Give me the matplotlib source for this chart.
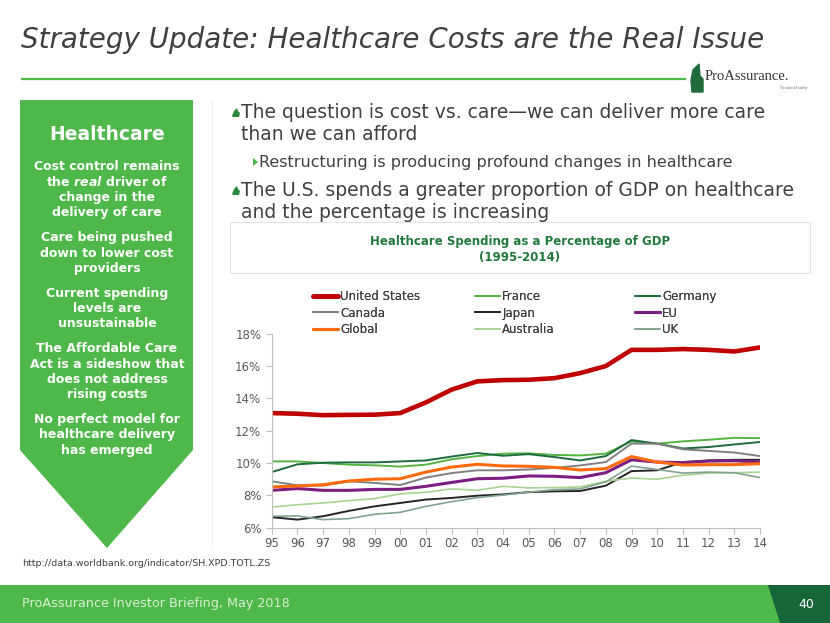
import matplotlib
matplotlib.use("Agg")
import matplotlib.pyplot as plt
from matplotlib.patches import Polygon, Rectangle

# values (percent of GDP)
years = ["95", "96", "97", "98", "99", "00", "01", "02", "03", "04",
         "05", "06", "07", "08", "09", "10", "11", "12", "13", "14"]
united_states = [13.09, 13.05, 12.96, 12.98, 12.99, 13.09, 13.75, 14.54, 15.05, 15.13,
                 15.15, 15.25, 15.56, 16.0, 17.0, 17.0, 17.05, 17.0, 16.9, 17.15]
france = [10.1, 10.1, 10.0, 9.9, 9.86, 9.78, 9.9, 10.23, 10.43, 10.58,
          10.6, 10.5, 10.47, 10.58, 11.34, 11.2, 11.34, 11.44, 11.56, 11.54]
germany = [9.44, 9.92, 10.02, 10.04, 10.04, 10.1, 10.16, 10.4, 10.62, 10.45,
           10.55, 10.37, 10.16, 10.43, 11.42, 11.2, 10.9, 10.99, 11.15, 11.3]
canada = [8.87, 8.62, 8.6, 8.87, 8.77, 8.64, 9.1, 9.38, 9.55, 9.55,
          9.6, 9.7, 9.85, 10.06, 11.2, 11.2, 10.85, 10.75, 10.65, 10.43]
japan = [6.65, 6.5, 6.71, 7.04, 7.32, 7.53, 7.74, 7.84, 7.98, 8.06,
         8.2, 8.25, 8.27, 8.6, 9.5, 9.55, 10.06, 10.16, 10.2, 10.2]
eu = [8.31, 8.42, 8.31, 8.31, 8.37, 8.37, 8.56, 8.8, 9.03, 9.06,
      9.2, 9.18, 9.1, 9.4, 10.2, 10.06, 10.02, 10.12, 10.14, 10.06]
global_avg = [8.52, 8.58, 8.66, 8.89, 9.0, 9.03, 9.44, 9.75, 9.92, 9.82,
              9.8, 9.73, 9.57, 9.65, 10.4, 10.06, 9.88, 9.9, 9.9, 9.96]
australia = [7.28, 7.42, 7.53, 7.67, 7.8, 8.09, 8.19, 8.4, 8.31, 8.56,
             8.46, 8.48, 8.52, 8.88, 9.07, 9.0, 9.24, 9.38, 9.4, 9.44]
uk = [6.71, 6.73, 6.5, 6.56, 6.83, 6.95, 7.32, 7.61, 7.86, 8.02,
      8.2, 8.35, 8.4, 8.83, 9.81, 9.6, 9.38, 9.44, 9.4, 9.1]
y_ticks = [6, 8, 10, 12, 14, 16, 18]

# (label, values, colour, width)
series = [
    ("United States", united_states, "#c00000", 3.3),
    ("France", france, "#55b441", 1.4),
    ("Germany", germany, "#1d6b3d", 1.4),
    ("Canada", canada, "#808080", 1.4),
    ("Japan", japan, "#262626", 1.4),
    ("EU", eu, "#7a1e80", 2.2),
    ("Global", global_avg, "#ff6a0d", 2.2),
    ("Australia", australia, "#a8d490", 1.2),
    ("UK", uk, "#82a38e", 1.2),
]

panel_items = [
    ["Cost control remains", "the $\\mathit{real}$ driver of", "change in the", "delivery of care"],
    ["Care being pushed", "down to lower cost", "providers"],
    ["Current spending", "levels are", "unsustainable"],
    ["The Affordable Care", "Act is a sideshow that", "does not address", "rising costs"],
    ["No perfect model for", "healthcare delivery", "has emerged"],
]

GREEN = "#4fb84a"
TEXT = "#404040"

plt.rcParams["font.family"] = ["DejaVu Sans"]
plt.rcParams["mathtext.fontset"] = "custom"
plt.rcParams["mathtext.it"] = "DejaVu Sans:italic:bold"
plt.rcParams["mathtext.rm"] = "DejaVu Sans:bold"

fig = plt.figure(figsize=(8.3, 6.23), dpi=100)

# background layer in pixel coordinates
bg = fig.add_axes([0, 0, 1, 1])
bg.set_xlim(0, 830)
bg.set_ylim(623, 0)
bg.axis("off")

bg.text(21, 40, "Strategy Update: Healthcare Costs are the Real Issue",
        fontsize=20, style="italic", color=TEXT, va="center", ha="left")
bg.plot([22, 685], [79, 79], color=GREEN, lw=1.6)

# logo
bg.add_patch(Polygon([(693, 70), (699, 64), (700, 76), (703, 79), (703, 92), (692, 92), (691, 80)],
                     closed=True, color="#1f6b3a"))
bg.text(705, 76, "ProAssurance.", fontsize=10.5, family="Liberation Serif",
        color="#333333", va="center", ha="left")
bg.text(808, 88, "Treated Fairly", fontsize=3.5, family="Liberation Serif",
        color="#666666", va="center", ha="right")

# left arrow panel
bg.add_patch(Polygon([(20, 100), (193, 100), (193, 450), (107, 548), (20, 450)],
                     closed=True, color=GREEN, lw=0))
bg.plot([212, 212], [100, 545], color="#eeeeee", lw=0.8)
bg.text(107, 135, "Healthcare", fontsize=13.5, weight="bold", color="white",
        ha="center", va="center")
y = 167
for item in panel_items:
    for line in item:
        bg.text(107, y, line, fontsize=9, weight="bold", color="white",
                ha="center", va="center")
        y += 15.3
    y += 9.6

# bullets
def leaf(x, y):
    bg.add_patch(Polygon([(x, y + 4), (x + 2, y - 1), (x + 5, y - 4), (x + 6, y - 1),
                          (x + 8, y + 1), (x + 7, y + 5), (x + 1, y + 5)],
                         closed=True, color="#2d8a3c", lw=0))

leaf(232, 112)
bg.text(241, 112, "The question is cost vs. care\u2014we can deliver more care",
        fontsize=13.5, color=TEXT, va="center")
bg.text(241, 134, "than we can afford", fontsize=13.5, color=TEXT, va="center")
bg.add_patch(Polygon([(253, 158), (258, 162), (253, 166)], closed=True, color=GREEN, lw=0))
bg.text(259, 162, "Restructuring is producing profound changes in healthcare",
        fontsize=11.5, color=TEXT, va="center")
leaf(232, 190)
bg.text(241, 190, "The U.S. spends a greater proportion of GDP on healthcare",
        fontsize=13.5, color=TEXT, va="center")
bg.text(241, 212, "and the percentage is increasing", fontsize=13.5, color=TEXT, va="center")

# chart title box
bg.add_patch(Rectangle((230, 222), 580, 51, fill=False, ec="#e2e2e2", lw=0.8))
bg.text(520, 242, "Healthcare Spending as a Percentage of GDP", fontsize=8.5,
        weight="bold", color="#217a3c", ha="center", va="center")
bg.text(520, 257, "(1995-2014)", fontsize=8.5, weight="bold", color="#217a3c",
        ha="center", va="center")

bg.text(22, 564, "http://data.worldbank.org/indicator/SH.XPD.TOTL.ZS", fontsize=6.8,
        color=TEXT, va="center")

# footer band
bg.add_patch(Rectangle((0, 585), 830, 38, color=GREEN, lw=0))
bg.add_patch(Polygon([(768, 585), (830, 585), (830, 623), (780, 623)], closed=True,
                     color="#17663a", lw=0))
bg.text(22, 604, "ProAssurance Investor Briefing, May 2018", fontsize=9.2,
        color="#d8eed2", va="center")
bg.text(806, 604, "40", fontsize=9, color="white", va="center", ha="center")

# the line chart
ax = fig.add_axes([271.7 / 830, 1 - 527.7 / 623, (760 - 271.7) / 830, 194 / 623])
ax.patch.set_alpha(0)
x = list(range(len(years)))
handles = {}
for label, vals, col, lw in series:
    ln, = ax.plot(x, vals, color=col, lw=lw, solid_capstyle="round", label=label)
    handles[label] = ln

ax.set_xlim(0, len(years) - 1)
ax.set_ylim(6, 18)
ax.set_xticks(x)
ax.set_xticklabels(years)
ax.set_yticks(y_ticks)
ax.set_yticklabels([f"{v}%" for v in y_ticks])
for s in ["top", "right"]:
    ax.spines[s].set_visible(False)
for s in ["left", "bottom"]:
    ax.spines[s].set_color("#bfbfbf")
    ax.spines[s].set_linewidth(0.8)
ax.tick_params(axis="both", colors="#bfbfbf", labelcolor="#595959", labelsize=8.5,
               length=4, width=0.8)
ax.tick_params(axis="x", pad=3)

# legend as three columns
columns = [["United States", "Canada", "Global"],
           ["France", "Japan", "Australia"],
           ["Germany", "EU", "UK"]]
col_x = [313, 475, 635]
for cx, names in zip(col_x, columns):
    leg = fig.legend([handles[n] for n in names], names, loc="upper left",
                     bbox_to_anchor=(cx / 830, 1 - 290 / 623), frameon=False,
                     fontsize=8.5, handlelength=2.1, handletextpad=0.2,
                     labelspacing=0.3, borderaxespad=0, borderpad=0)
    for t in leg.get_texts():
        t.set_color(TEXT)
    fig.add_artist(leg)

fig.savefig("out.png", dpi=100)
